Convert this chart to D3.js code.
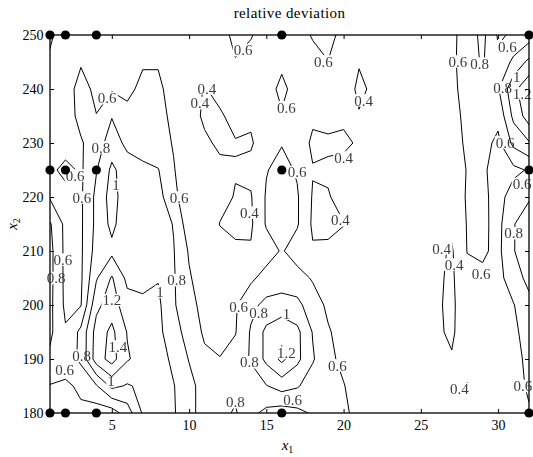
<!DOCTYPE html>
<html>
<head>
<meta charset="utf-8">
<script src="https://cdn.jsdelivr.net/npm/d3@7"></script>
<style>
  body { margin: 0; background: #fff; }
  svg { display: block; }
  text { font-family: "Liberation Serif", "DejaVu Serif", serif; }
</style>
</head>
<body>
<svg id="chart" width="533" height="457"></svg>
<script>
// Grid coordinates of the relative-deviation field
const x1Values = [1,2,3,4,5,6,7,8,9,10,11,12,13,14,15,16,17,18,19,20,21,22,23,24,25,26,27,28,29,30,31,32];
const x2Values = [250,245,240,235,230,225,220,215,210,205,200,195,190,185,180];

// One row of relative deviation per x2 value, columns follow x1Values
const row250 = [0.63,0.5,0.5,0.5,0.5,0.5,0.52,0.52,0.5,0.48,0.45,0.45,0.7,0.62,0.47,0.5,0.55,0.61,0.68,0.52,0.45,0.48,0.5,0.5,0.5,0.52,0.55,0.7,0.85,0.58,0.62,0.7];
const row245 = [0.57,0.52,0.58,0.52,0.52,0.5,0.58,0.58,0.48,0.47,0.45,0.45,0.58,0.5,0.5,0.55,0.5,0.56,0.595,0.48,0.41,0.46,0.48,0.5,0.5,0.52,0.55,0.72,0.82,0.63,0.85,1.05];
const row240 = [0.5,0.5,0.68,0.55,0.58,0.55,0.65,0.65,0.5,0.47,0.39,0.45,0.48,0.48,0.5,0.66,0.5,0.45,0.45,0.48,0.37,0.43,0.48,0.5,0.5,0.5,0.55,0.68,0.68,0.78,1.15,1.35];
const row235 = [0.48,0.5,0.66,0.605,0.79,0.66,0.68,0.67,0.55,0.48,0.37,0.38,0.45,0.43,0.5,0.58,0.5,0.43,0.44,0.43,0.41,0.44,0.48,0.5,0.5,0.5,0.52,0.66,0.68,0.65,1.05,1.3];
const row230 = [0.5,0.5,0.58,0.7,0.9,0.75,0.7,0.66,0.59,0.48,0.43,0.37,0.39,0.38,0.5,0.59,0.5,0.37,0.38,0.37,0.42,0.45,0.48,0.5,0.5,0.5,0.5,0.64,0.66,0.56,0.85,0.98];
const row225 = [0.55,0.66,0.57,0.79,1.04,0.9,0.85,0.81,0.61,0.5,0.47,0.44,0.41,0.45,0.59,0.66,0.58,0.41,0.42,0.45,0.45,0.46,0.5,0.5,0.5,0.5,0.48,0.61,0.64,0.5,0.55,0.62];
const row220 = [0.58,0.52,0.57,0.85,1.08,0.88,0.88,0.88,0.64,0.5,0.48,0.45,0.39,0.385,0.62,0.68,0.62,0.385,0.39,0.45,0.47,0.48,0.5,0.5,0.5,0.48,0.47,0.62,0.65,0.52,0.7,0.78];
const row215 = [0.82,0.55,0.57,0.85,1.05,0.87,0.88,0.9,0.79,0.48,0.5,0.395,0.36,0.37,0.62,0.67,0.62,0.37,0.36,0.395,0.5,0.48,0.5,0.5,0.48,0.46,0.44,0.61,0.64,0.54,0.79,0.9];
const row210 = [0.86,0.55,0.57,0.88,0.95,0.88,0.9,0.92,0.81,0.58,0.47,0.46,0.43,0.42,0.5,0.62,0.5,0.42,0.43,0.46,0.48,0.5,0.5,0.48,0.46,0.44,0.38,0.605,0.63,0.55,0.79,0.92];
const row205 = [0.86,0.55,0.57,0.98,1.22,0.95,0.93,0.99,0.82,0.62,0.5,0.47,0.5,0.56,0.68,0.7,0.68,0.58,0.5,0.48,0.48,0.5,0.5,0.48,0.46,0.43,0.37,0.55,0.56,0.53,0.72,0.85];
const row200 = [0.85,0.56,0.59,1.15,1.3,1.08,1.05,1.04,0.82,0.68,0.52,0.48,0.58,0.75,0.85,0.88,0.85,0.7,0.56,0.5,0.48,0.5,0.5,0.48,0.45,0.42,0.37,0.5,0.52,0.5,0.59,0.75];
const row195 = [0.84,0.62,0.85,1.28,1.45,1.19,1.1,1.05,0.88,0.72,0.57,0.5,0.59,0.82,1.05,1.15,1.05,0.79,0.62,0.52,0.5,0.5,0.5,0.48,0.45,0.42,0.38,0.48,0.5,0.5,0.56,0.68];
const row190 = [0.76,0.66,0.85,1.3,1.48,1.22,1.12,1.1,0.95,0.79,0.64,0.61,0.68,0.82,1.05,1.25,1.05,0.82,0.65,0.55,0.5,0.5,0.48,0.47,0.45,0.43,0.41,0.47,0.5,0.5,0.52,0.66];
const row185 = [0.59,0.58,0.62,0.78,1.05,0.98,1.04,1.1,1.01,0.86,0.72,0.7,0.75,0.7,0.79,0.88,0.82,0.7,0.66,0.61,0.5,0.5,0.48,0.47,0.45,0.44,0.44,0.39,0.48,0.5,0.52,0.63];
const row180 = [0.5,0.5,0.58,0.5,0.5,0.7,1.02,1.12,1.02,0.86,0.72,0.75,0.82,0.65,0.55,0.5,0.55,0.62,0.64,0.66,0.5,0.5,0.48,0.47,0.46,0.45,0.45,0.45,0.48,0.5,0.5,0.58];

const levels = [0.4, 0.6, 0.8, 1, 1.2, 1.4];

// Sampled design points (x1, x2)
const sampleX1 = [1, 2, 4, 16, 32];
const sampleX2 = [250, 225, 180];

// Inline contour labels: x1, x2, level
const contourLabels = [
  [4.7,238.3,0.6],[4.3,229.2,0.8],[2.62,224,0.6],[5.27,222.2,1],[3.07,219.9,0.6],
  [9.35,219.9,0.6],[1.84,208.4,0.6],[1.39,205,0.8],[9.2,204.6,0.8],[8.12,202.5,1],
  [5.0,200.9,1.2],[5.4,192.3,1.4],[3.05,190.6,0.8],[1.95,188.1,0.6],[4.95,185.9,1],
  [13.5,247.2,0.6],[18.7,245.1,0.6],[11.16,240.1,0.4],[10.7,237.4,0.4],[16.3,236.6,0.6],
  [21.3,237.9,0.4],[20.0,227.3,0.4],[17.0,224.6,0.6],[13.9,217.1,0.4],[19.8,215.7,0.4],
  [13.2,199.7,0.6],[14.5,198.6,0.8],[16.3,198.4,1],[16.3,191.2,1.2],[13.9,189.4,0.8],
  [19.6,188.8,0.6],[13.0,182,0.8],[16.7,182.5,0.6],[27.4,245.1,0.6],[28.8,244.7,0.8],
  [30.6,247.9,0.6],[31.2,242.2,1],[30.3,240.3,0.8],[31.55,239.2,1.2],[30.45,230.1,0.6],
  [31.55,222.4,0.6],[31.0,213.3,0.8],[26.35,210.5,0.4],[27.15,207.5,0.4],[28.9,205.7,0.6],
  [27.5,184.4,0.4],[31.6,185,0.6]
];

const xTicks = [5, 10, 15, 20, 25, 30];
const yTicks = [180, 190, 200, 210, 220, 230, 240, 250];

const W = 533, H = 457;
const svg = d3.select("#chart");

const x = d3.scaleLinear().domain(d3.extent(x1Values)).range([50, 529]);
const y = d3.scaleLinear().domain(d3.extent(x2Values)).range([413, 35]);

const nx = x1Values.length, ny = x2Values.length;
const grid = [row250,row245,row240,row235,row230,row225,row220,row215,row210,row205,row200,row195,row190,row185,row180];
const values = grid.flat();

const contours = d3.contours().size([nx, ny]).thresholds(levels)(values);

// d3.contours puts grid node i at coordinate i + 0.5
const dx1 = x1Values[1] - x1Values[0];
const dx2 = x2Values[1] - x2Values[0];
const proj = d3.geoTransform({
  point(cx, cy) {
    this.stream.point(x(x1Values[0] + (cx - 0.5) * dx1), y(x2Values[0] + (cy - 0.5) * dx2));
  }
});
const path = d3.geoPath(proj);

const defs = svg.append("defs");
defs.append("clipPath").attr("id", "plot-clip")
  .append("rect")
  .attr("x", x(1)).attr("y", y(250))
  .attr("width", x(32) - x(1)).attr("height", y(180) - y(250));

const fmt = v => String(v);
const labelFont = 15;

// labels first so their boxes can cut gaps in their own contour
const labelLayer = svg.append("g").attr("class", "contour-labels").attr("opacity", 0.99);
const labelNodes = labelLayer.selectAll("text")
  .data(contourLabels)
  .join("text")
  .attr("x", d => x(d[0]))
  .attr("y", d => y(d[1]))
  .attr("dy", "0.35em")
  .attr("text-anchor", "middle")
  .attr("font-size", labelFont)
  .attr("fill", "#3a3a3a")
  .text(d => fmt(d[2]));

const boxes = [];
labelNodes.each(function(d) {
  const b = this.getBBox();
  boxes.push({ level: d[2], x: b.x - 1, y: y(d[1]) - labelFont * 0.42, w: b.width + 2, h: labelFont * 0.84 });
});

levels.forEach((lv, k) => {
  const m = defs.append("mask").attr("id", "gap-" + k)
    .attr("maskUnits", "userSpaceOnUse")
    .attr("x", 0).attr("y", 0).attr("width", W).attr("height", H);
  m.append("rect").attr("x", 0).attr("y", 0).attr("width", W).attr("height", H).attr("fill", "#fff");
  boxes.filter(b => b.level === lv).forEach(b => {
    m.append("rect").attr("x", b.x).attr("y", b.y).attr("width", b.w).attr("height", b.h).attr("fill", "#000");
  });
});

const lineLayer = svg.insert("g", ".contour-labels").attr("clip-path", "url(#plot-clip)");
lineLayer.selectAll("path")
  .data(contours)
  .join("path")
  .attr("d", path)
  .attr("fill", "none")
  .attr("stroke", "#000")
  .attr("stroke-width", 1)
  .attr("stroke-linejoin", "round")
  .attr("mask", d => "url(#gap-" + levels.indexOf(d.value) + ")");

// frame and ticks on all four sides, pointing inward
const axisFont = 14;
const axBottom = svg.append("g").attr("transform", `translate(0,${y(180)})`)
  .call(d3.axisBottom(x).tickValues(xTicks).tickSize(-4).tickSizeOuter(0).tickPadding(7).tickFormat(d3.format("d")));
const axTop = svg.append("g").attr("transform", `translate(0,${y(250)})`)
  .call(d3.axisTop(x).tickValues(xTicks).tickSize(-4).tickSizeOuter(0).tickFormat(""));
const axLeft = svg.append("g").attr("transform", `translate(${x(1)},0)`)
  .call(d3.axisLeft(y).tickValues(yTicks).tickSize(-4).tickSizeOuter(0).tickPadding(6.5).tickFormat(d3.format("d")));
const axRight = svg.append("g").attr("transform", `translate(${x(32)},0)`)
  .call(d3.axisRight(y).tickValues(yTicks).tickSize(-4).tickSizeOuter(0).tickFormat(""));

[axBottom, axTop, axLeft, axRight].forEach(g => {
  g.select(".domain").remove();
  g.selectAll(".tick line").attr("stroke", "#000").attr("stroke-width", 1);
  g.selectAll("text").attr("font-size", axisFont).attr("fill", "#000")
    .attr("font-family", "'Liberation Serif', serif");
});

svg.append("rect")
  .attr("x", x(1)).attr("y", y(250))
  .attr("width", x(32) - x(1)).attr("height", y(180) - y(250))
  .attr("fill", "none").attr("stroke", "#000").attr("stroke-width", 1.3);

// design points
const pts = [];
sampleX2.forEach(b => sampleX1.forEach(a => pts.push([a, b])));
svg.append("g").selectAll("circle")
  .data(pts)
  .join("circle")
  .attr("cx", d => x(d[0]))
  .attr("cy", d => y(d[1]))
  .attr("r", 4.6)
  .attr("fill", "#000");

// title and axis titles
svg.append("text")
  .attr("x", (x(1) + x(32)) / 2).attr("y", 18)
  .attr("text-anchor", "middle").attr("font-size", 15).attr("letter-spacing", 0.4).attr("fill", "#000")
  .text("relative deviation");

const xl = svg.append("text")
  .attr("x", (x(1) + x(32)) / 2 - 2).attr("y", 450)
  .attr("text-anchor", "middle").attr("font-size", 15).attr("fill", "#000");
xl.append("tspan").attr("font-style", "italic").text("x");
xl.append("tspan").attr("font-size", 10).attr("dy", 3).text("1");

const yl = svg.append("text")
  .attr("transform", `translate(17,${(y(180) + y(250)) / 2}) rotate(-90)`)
  .attr("text-anchor", "middle").attr("font-size", 15).attr("fill", "#000");
yl.append("tspan").attr("font-style", "italic").text("x");
yl.append("tspan").attr("font-size", 10).attr("dy", 3).text("2");
</script>
</body>
</html>
